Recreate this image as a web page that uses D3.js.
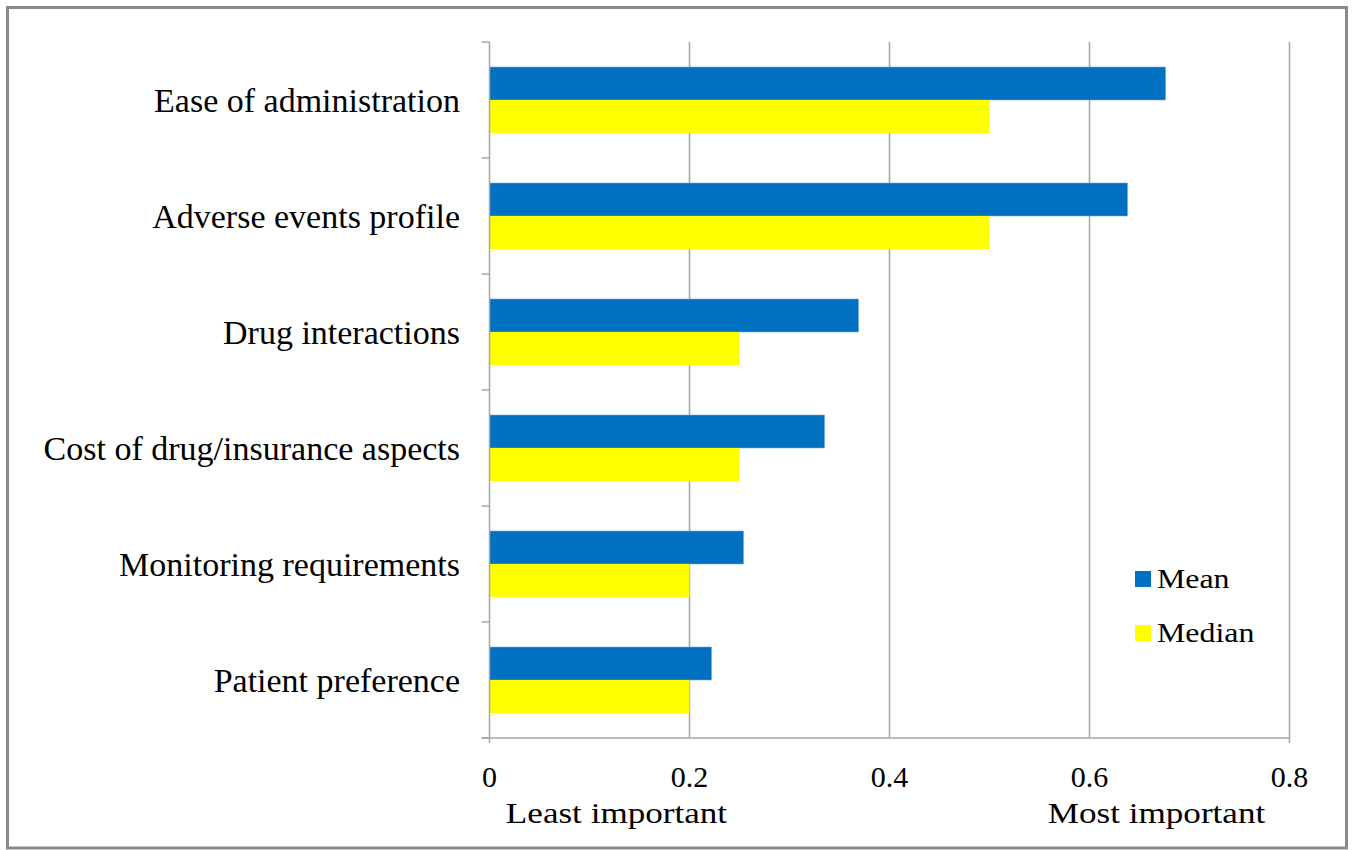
<!DOCTYPE html>
<html>
<head>
<meta charset="utf-8">
<script src="https://cdn.jsdelivr.net/npm/d3@7"></script>
<style>
  html, body { margin: 0; padding: 0; background: #ffffff; }
  svg { display: block; }
  text { font-family: "Liberation Serif", "Times New Roman", serif; fill: #000; }
</style>
</head>
<body>
<svg id="chart" width="1353" height="850"></svg>
<script>
// ---- data ----
const categories = [
  "Ease of administration",
  "Adverse events profile",
  "Drug interactions",
  "Cost of drug/insurance aspects",
  "Monitoring requirements",
  "Patient preference"
];
const seriesNames = ["Mean", "Median"];
const meanValues   = [0.676, 0.638, 0.369, 0.335, 0.254, 0.222];
const medianValues = [0.50, 0.50, 0.25, 0.25, 0.20, 0.20];
const xTicks = [0, 0.2, 0.4, 0.6, 0.8];
const xTickLabels = ["0", "0.2", "0.4", "0.6", "0.8"];
const endLabels = ["Least important", "Most important"];
const endLabelValues = [0.127, 0.667];
const colors = { Mean: "#0070C0", Median: "#FFFF00" };

const rows = categories.map((c, i) => ({ cat: c, Mean: meanValues[i], Median: medianValues[i] }));

// ---- layout ----
const svg = d3.select("#chart");
const W = 1353, H = 850;
const plot = { left: 489.5, right: 1289.5, top: 42, bottom: 738 };

// frame
svg.append("rect")
  .attr("x", 7.5).attr("y", 7.5)
  .attr("width", W - 6.5 - 7.5).attr("height", H - 2 - 7.5)
  .attr("fill", "#fff").attr("stroke", "#8a8a8a").attr("stroke-width", 3);

const x = d3.scaleLinear().domain([0, 0.8]).range([plot.left, plot.right]);
const pIn = 50 / 116;
const y = d3.scaleBand().domain(categories).range([plot.top, plot.bottom])
  .paddingInner(pIn).paddingOuter(pIn / 2);
const ySub = d3.scaleBand().domain(seriesNames).range([0, y.bandwidth()]);

const gridColor = "#a6a6a6";

// vertical gridlines
svg.append("g").selectAll("line").data(xTicks.slice(1)).join("line")
  .attr("x1", d => x(d)).attr("x2", d => x(d))
  .attr("y1", plot.top).attr("y2", d => d === 0.8 ? plot.bottom + 5 : plot.bottom)
  .attr("stroke", gridColor).attr("stroke-width", 1.5);

// bars
const groups = svg.append("g").selectAll("g").data(rows).join("g")
  .attr("transform", d => `translate(0,${y(d.cat)})`);
groups.selectAll("rect").data(d => seriesNames.map(s => ({ s, v: d[s] }))).join("rect")
  .attr("x", x(0))
  .attr("y", d => ySub(d.s))
  .attr("width", d => x(d.v) - x(0))
  .attr("height", ySub.bandwidth())
  .attr("fill", d => colors[d.s])
  .attr("stroke", d => d.s === "Mean" ? "#6fa8dc" : "none")
  .attr("stroke-width", 0.6);

// y axis (category boundaries ticks)
const yAxisG = svg.append("g");
yAxisG.append("line")
  .attr("x1", x(0)).attr("x2", x(0))
  .attr("y1", plot.top).attr("y2", plot.bottom + 5)
  .attr("stroke", gridColor).attr("stroke-width", 1.5);
const boundaries = categories.map(c => y(c) - y.step() * pIn / 2).concat([plot.bottom]);
yAxisG.selectAll("line.tick").data(boundaries).join("line").attr("class", "tick")
  .attr("x1", x(0) - 8).attr("x2", x(0))
  .attr("y1", d => d).attr("y2", d => d)
  .attr("stroke", gridColor).attr("stroke-width", 1.5);

// x axis line
svg.append("line")
  .attr("x1", x(0) - 8).attr("x2", x(0.8))
  .attr("y1", plot.bottom).attr("y2", plot.bottom)
  .attr("stroke", gridColor).attr("stroke-width", 1.5);

// category labels
svg.append("g").selectAll("text").data(categories).join("text")
  .attr("x", 460)
  .attr("y", d => y(d) + y.bandwidth() / 2 + 11.5)
  .attr("text-anchor", "end")
  .attr("font-size", 34)
  .text(d => d);

// x tick labels
svg.append("g").selectAll("text").data(xTicks).join("text")
  .attr("x", d => x(d))
  .attr("y", 787)
  .attr("text-anchor", "middle")
  .attr("font-size", 30)
  .text((d, i) => xTickLabels[i]);

// stretched helper
function stretch(sel, k) {
  sel.each(function () {
    const len = this.getComputedTextLength();
    d3.select(this).attr("textLength", len * k).attr("lengthAdjust", "spacingAndGlyphs");
  });
}

// end labels
const endSel = svg.append("g").selectAll("text").data(endLabels).join("text")
  .attr("x", (d, i) => x(endLabelValues[i]))
  .attr("y", 823)
  .attr("text-anchor", "middle")
  .attr("font-size", 30)
  .text(d => d);
stretch(endSel, 1.17);

// legend
const legend = svg.append("g").attr("transform", "translate(1135,571)");
const li = legend.selectAll("g").data(seriesNames).join("g")
  .attr("transform", (d, i) => `translate(0,${i * 54})`);
li.append("rect").attr("width", 16).attr("height", 16).attr("fill", d => colors[d]);
const lt = li.append("text").attr("x", 22).attr("y", 17).attr("font-size", 27).text(d => d);
stretch(lt, 1.18);
</script>
</body>
</html>
